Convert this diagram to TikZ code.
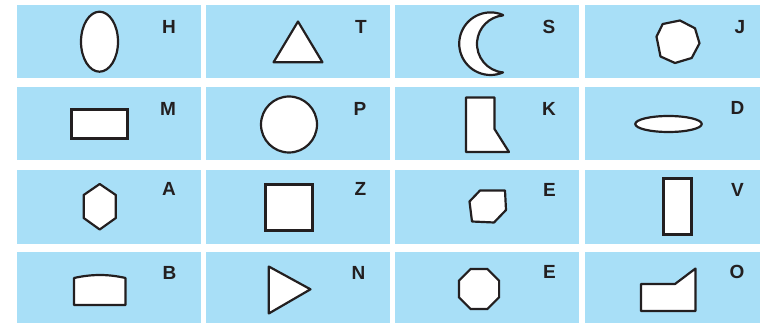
\documentclass[tikz,border=0pt]{standalone}
\usepackage{fontspec}
\setmainfont{Liberation Sans}
\usetikzlibrary{shapes.geometric}
\definecolor{cellblue}{HTML}{A8DFF7}
\definecolor{shapeink}{HTML}{231F20}
\tikzset{
  cell/.style={fill=cellblue, draw=none},
  shp/.style={draw=shapeink, fill=white, line width=2.2pt, line join=round},
  heavy/.style={draw=shapeink, fill=white, line width=3pt},
  lbl/.style={font=\fontsize{19}{21}\selectfont\bfseries, text=shapeink, inner sep=0pt},
}

\begin{document}
\begin{tikzpicture}[x=1pt,y=-1pt]
    \useasboundingbox (0,0) rectangle (760,323);
    \foreach \cx in {17,206,395,585}
      \foreach \cy in {5,87,170,252}
        \fill[cell] (\cx,\cy) rectangle ++(184,73.5);
    % letters
    \node[lbl] (lh) at (169,27) {H};
    \node[lbl] (lt) at (361,27) {T};
    \node[lbl] (ls) at (549,27) {S};
    \node[lbl] (lj) at (740,27) {J};
    \node[lbl] (lm) at (168,109) {M};
    \node[lbl] (lp) at (360,109) {P};
    \node[lbl] (lk) at (549,109) {K};
    \node[lbl] (ld) at (737.5,108) {D};
    \node[lbl] (la) at (169,189) {A};
    \node[lbl] (lz) at (360.5,189) {Z};
    \node[lbl] (le) at (549.5,190) {E};
    \node[lbl] (lv) at (737.5,190) {V};
    \node[lbl] (lb) at (169.5,273) {B};
    \node[lbl] (ln) at (358.5,273) {N};
    \node[lbl] (lo) at (549.5,272) {E};
    \node[lbl] (lq) at (737,272) {O};
    % shapes
    \node[shp, ellipse, inner sep=0pt, minimum width=37pt, minimum height=60pt] (h) at (99.5,41.7) {};
    \draw[shp] (298,21.5) -- (322.5,62.3) -- (273.5,62.3) -- cycle;
    \draw[shp] (503,15) arc[start angle=-66.5, end angle=-293.5, radius=31.3]
               arc[start angle=-264.8, end angle=-95.2, radius=28.6] -- cycle;
    \draw[shp] (662.7,24) -- (680,20.5) -- (695,28.3) -- (699.5,43.3) -- (691.7,58) -- (675,63) -- (660.5,56.5) -- (656.5,36.7) -- cycle;
    \draw[heavy] (71.5,109.5) rectangle (127.5,138.5);
    \node[shp, circle, inner sep=0pt, minimum size=56pt] (p) at (289,124.5) {};
    \draw[shp] (466,97.5) -- (494.5,97.5) -- (494.5,129) -- (509,152) -- (466,152) -- cycle;
    \node[shp, ellipse, inner sep=0pt, minimum width=66.5pt, minimum height=16pt] (d) at (668.5,124) {};
    \draw[shp] (99.7,184) -- (115.8,195) -- (115.8,218) -- (99.7,229.5) -- (83.7,218) -- (83.7,195) -- cycle;
    \draw[heavy] (265.5,184.2) rectangle (312.5,230.2);
    \draw[shp] (480,190.5) -- (505,190.5) -- (506,210) -- (494,222.5) -- (472,221.5) -- (469.5,201.5) -- cycle;
    \draw[heavy] (663.2,178.8) rectangle (691.8,234.5);
    \draw[shp] (74,278) .. controls (92,274) and (108,274) .. (125.5,278) -- (125.5,305) -- (74,305) -- cycle;
    \draw[shp] (268.8,266.5) -- (310.5,289.3) -- (268.8,313.5) -- cycle;
    \node[shp, regular polygon, regular polygon sides=8, inner sep=0pt, minimum size=43.5pt] (oc) at (479,289) {};
    \draw[shp] (641,284) -- (675,284) -- (695.5,268.5) -- (695.5,311) -- (641,311) -- cycle;
\end{tikzpicture}
\end{document}
